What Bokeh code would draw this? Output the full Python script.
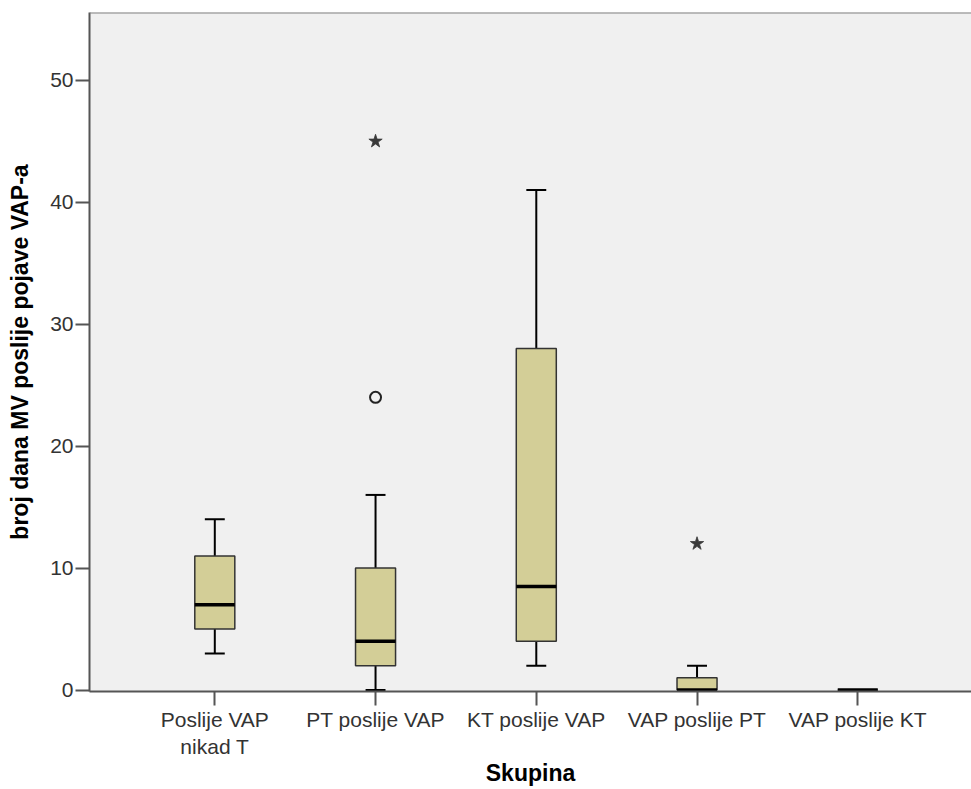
from bokeh.plotting import figure
from bokeh.models import FixedTicker, Range1d, Span
from bokeh.embed import file_html
from bokeh.resources import INLINE

# ---- data ----
groups = ["Poslije VAP\nnikad T", "PT poslije VAP", "KT poslije VAP", "VAP poslije PT", "VAP poslije KT"]
pos = [1, 2, 3, 4, 5]
lower = [3, 0, 2, 0, 0]
q1 = [5, 2, 4, 0, 0]
median = [7, 4, 8.5, 0, 0]
q3 = [11, 10, 28, 1, 0]
upper = [14, 16, 41, 2, 0]
outlier_x = [2]
outlier_y = [24]
extreme_x = [2, 4]
extreme_y = [45, 12]
y_ticks = [0, 10, 20, 30, 40, 50]

BOX_W = 0.249
CAP_W = 0.124
FILL = "#D3CE97"
FONT = "Liberation Sans"
Y_TOP = 55.56

p = figure(width=971, height=789, output_backend="svg", toolbar_location=None,
           x_range=Range1d(0.2205, 5.7075), y_range=Range1d(-0.12, Y_TOP),
           min_border_left=89, min_border_top=12, min_border_right=0, min_border_bottom=98)

p.background_fill_color = "#F0F0F0"
p.border_fill_color = "white"
p.outline_line_color = None
p.xgrid.grid_line_color = None
p.ygrid.grid_line_color = None

# whiskers
p.segment(x0=pos, y0=q3, x1=pos, y1=upper, line_color="black", line_width=2)
p.segment(x0=pos, y0=lower, x1=pos, y1=q1, line_color="black", line_width=2)
p.segment(x0=[x - CAP_W / 2 for x in pos], y0=upper, x1=[x + CAP_W / 2 for x in pos], y1=upper,
          line_color="black", line_width=2)
p.segment(x0=[x - CAP_W / 2 for x in pos], y0=lower, x1=[x + CAP_W / 2 for x in pos], y1=lower,
          line_color="black", line_width=2)
# boxes
p.vbar(x=pos, bottom=q1, top=q3, width=BOX_W, fill_color=FILL, line_color="#333333", line_width=1.5)
# medians
p.segment(x0=[x - BOX_W / 2 for x in pos], y0=median, x1=[x + BOX_W / 2 for x in pos], y1=median,
          line_color="black", line_width=3.5)
# outliers
p.scatter(x=outlier_x, y=outlier_y, marker="circle", size=11, fill_color=None,
          line_color="#222222", line_width=2)
p.scatter(x=extreme_x, y=extreme_y, marker="star", size=14, fill_color="#3a3a3a",
          line_color="#3a3a3a", line_width=0.8)

# top border
p.add_layout(Span(location=Y_TOP, dimension="width", line_color="#808080", line_width=2))

# axes
p.xaxis.ticker = FixedTicker(ticks=pos)
p.xaxis.major_label_overrides = {x: g for x, g in zip(pos, groups)}
p.yaxis.ticker = FixedTicker(ticks=y_ticks)
for ax in (p.xaxis, p.yaxis):
    ax.axis_line_color = "#555555"
    ax.axis_line_width = 2
    ax.major_tick_line_color = "#555555"
    ax.major_tick_line_width = 2
    ax.major_tick_out = 14
    ax.major_tick_in = 0
    ax.minor_tick_line_color = None
    ax.major_label_text_font = FONT
    ax.major_label_text_font_size = "21px"
    ax.major_label_text_color = "#333333"
    ax.axis_label_text_font = FONT
    ax.axis_label_text_font_size = "23px"
    ax.axis_label_text_font_style = "bold"
    ax.axis_label_text_color = "black"

p.xaxis.axis_label = "Skupina"
p.yaxis.axis_label = "broj dana MV poslije pojave VAP-a"
p.xaxis.major_label_standoff = 2
p.xaxis.axis_label_standoff = -1
p.yaxis.major_label_standoff = 2
p.yaxis.axis_label_standoff = 14

open("out.html", "w").write(file_html(p, INLINE))
